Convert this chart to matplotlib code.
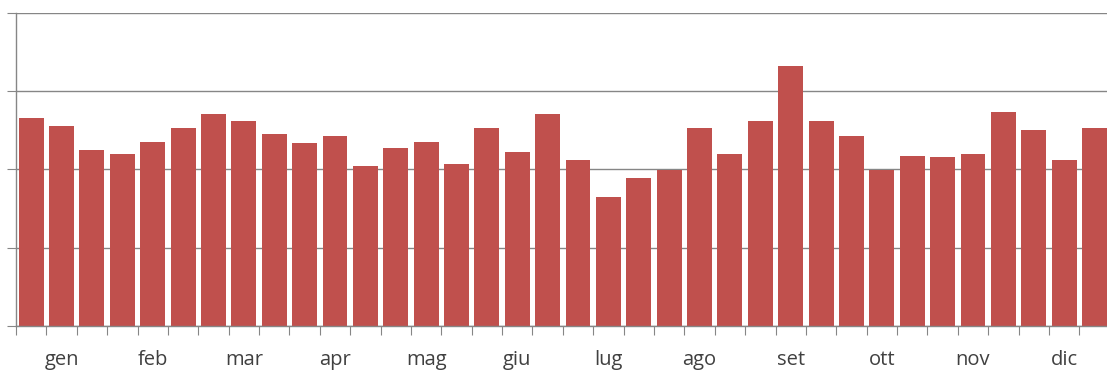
import matplotlib
matplotlib.use("Agg")
import matplotlib.pyplot as plt
import numpy as np

# Monthly labels (one per group of three bars)
months = ["gen", "feb", "mar", "apr", "mag", "giu",
          "lug", "ago", "set", "ott", "nov", "dic"]

# Three values per month, in order
values = [
    26.6, 25.5, 22.4,   # gen
    22.0, 23.5, 25.3,   # feb
    27.1, 26.1, 24.5,   # mar
    23.3, 24.3, 20.4,   # apr
    22.7, 23.5, 20.7,   # mag
    25.3, 22.2, 27.1,   # giu
    21.2, 16.4, 18.9,   # lug
    19.9, 25.3, 22.0,   # ago
    26.1, 33.2, 26.1,   # set
    24.3, 19.9, 21.7,   # ott
    21.5, 22.0, 27.3,   # nov
    25.0, 21.2, 25.3,   # dic
]

bar_color = "#C0504D"
axis_color = "#868686"
text_color = "#404040"

W, H, DPI = 1107, 370, 100
fig = plt.figure(figsize=(W / DPI, H / DPI), dpi=DPI)
fig.patch.set_facecolor("white")

left_px, right_px = 16, 1109.7
top_px, bottom_px = 12.5, 326
ax = fig.add_axes([left_px / W, (H - bottom_px) / H,
                   (right_px - left_px) / W, (bottom_px - top_px) / H])

n = len(values)
x = np.arange(n)
ax.bar(x, values, width=0.82, color=bar_color, zorder=3)

ax.set_xlim(-0.5, n - 0.5)
ax.set_ylim(0, 40)

# horizontal grid
ax.set_yticks([0, 10, 20, 30, 40])
ax.yaxis.grid(True, color=axis_color, linewidth=1.0, zorder=0)
ax.set_yticklabels([])
ax.tick_params(axis="y", length=6.5, width=0.8, color=axis_color, direction="out")

# category boundary ticks, month labels centred on each group
ax.set_xticks(np.arange(-0.5, n, 1.0))
ax.set_xticklabels([])
ax.tick_params(axis="x", which="major", length=6.5, width=0.8,
               color=axis_color, direction="out")
ax.set_xticks(np.arange(1, n, 3), minor=True)
ax.set_xticklabels(months, minor=True, fontsize=14.5, color=text_color,
                   family="Open Sans")
ax.tick_params(axis="x", which="minor", length=0, pad=17)

for side in ("top", "right"):
    ax.spines[side].set_visible(False)
for side in ("left", "bottom"):
    ax.spines[side].set_color(axis_color)
    ax.spines[side].set_linewidth(1.0)
    ax.spines[side].set_zorder(4)

fig.savefig("out.png", dpi=DPI, facecolor="white")
